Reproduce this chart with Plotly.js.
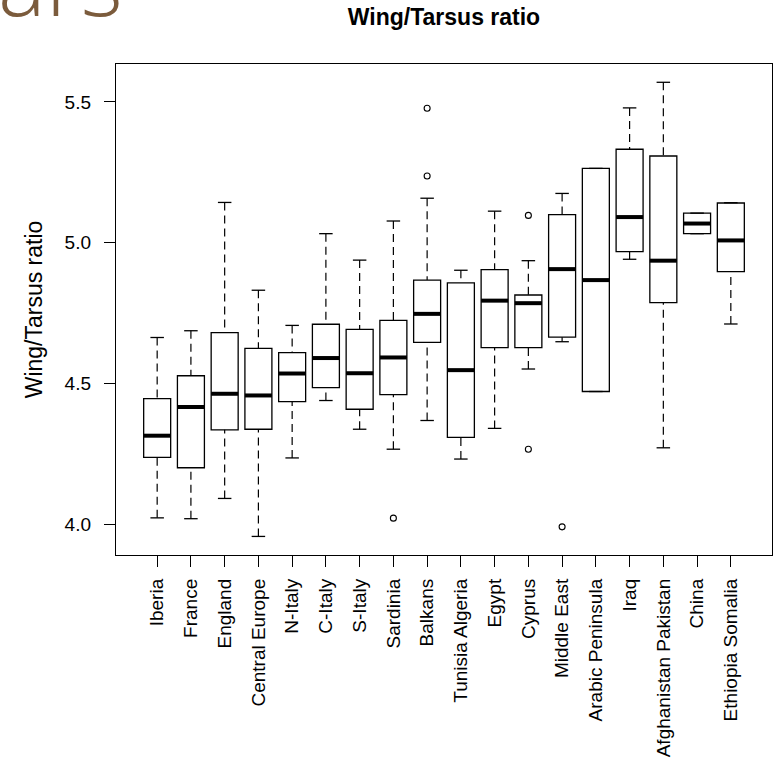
<!DOCTYPE html>
<html>
<head>
<meta charset="utf-8">
<script src="https://cdn.plot.ly/plotly-3.0.1.min.js"></script>
<style>html,body{margin:0;padding:0;background:#fff;}</style>
</head>
<body>
<div id="chart" style="width:781px;height:767px;"></div>
<script>
const categories = ["Iberia","France","England","Central Europe","N-Italy","C-Italy","S-Italy","Sardinia","Balkans","Tunisia Algeria","Egypt","Cyprus","Middle East","Arabic Peninsula","Iraq","Afghanistan Pakistan","China","Ethiopia Somalia"];
const lowerWhisker = [4.022, 4.019, 4.091, 3.956, 4.235, 4.439, 4.337, 4.266, 4.368, 4.231, 4.340, 4.551, 4.648, 4.471, 4.941, 4.271, 5.032, 4.711];
const q1Values     = [4.237, 4.200, 4.335, 4.337, 4.435, 4.485, 4.408, 4.460, 4.646, 4.308, 4.627, 4.627, 4.664, 4.471, 4.968, 4.787, 5.032, 4.897];
const medianValues = [4.314, 4.416, 4.463, 4.457, 4.535, 4.590, 4.536, 4.592, 4.747, 4.547, 4.794, 4.785, 4.906, 4.867, 5.091, 4.936, 5.068, 5.008];
const q3Values     = [4.446, 4.527, 4.680, 4.624, 4.609, 4.710, 4.692, 4.724, 4.867, 4.857, 4.904, 4.814, 5.100, 5.264, 5.332, 5.308, 5.105, 5.141];
const upperWhisker = [4.663, 4.687, 5.143, 4.831, 4.706, 5.032, 4.938, 5.077, 5.158, 4.902, 5.112, 4.936, 5.175, 5.264, 5.479, 5.570, 5.105, 5.142];
const outlierGroup = ["Sardinia","Balkans","Balkans","Cyprus","Cyprus","Middle East"];
const outlierValue = [4.021, 5.478, 5.237, 5.097, 4.266, 3.990];
const yTickValues = [4.0, 4.5, 5.0, 5.5];

const pos = categories.map((c, i) => i + 1);
const boxHalf = 0.4, capHalf = 0.2;

const font = "Liberation Sans, Arial, Helvetica, sans-serif";

const boxTrace = {
  type: 'box', x: pos, q1: q1Values, median: medianValues, q3: q3Values,
  lowerfence: q1Values, upperfence: q3Values,
  width: 2 * boxHalf, whiskerwidth: 0, boxpoints: false,
  line: {color: '#000', width: 1.3}, fillcolor: 'rgba(255,255,255,0)',
  showlegend: false, hoverinfo: 'skip'
};

function segs(x0s, x1s, y0s, y1s) {
  const xs = [], ys = [];
  for (let i = 0; i < x0s.length; i++) {
    xs.push(x0s[i], x1s[i], null);
    ys.push(y0s[i], y1s[i], null);
  }
  return {xs, ys};
}

const wUp = segs(pos, pos, upperWhisker, q3Values);
const wLo = segs(pos, pos, lowerWhisker, q1Values);
const whiskerTrace = {
  type: 'scatter', mode: 'lines',
  x: wUp.xs.concat(wLo.xs), y: wUp.ys.concat(wLo.ys),
  line: {color: '#000', width: 1.2, dash: '8px,5px'},
  showlegend: false, hoverinfo: 'skip'
};
const cUp = segs(pos.map(p => p - capHalf), pos.map(p => p + capHalf), upperWhisker, upperWhisker);
const cLo = segs(pos.map(p => p - capHalf), pos.map(p => p + capHalf), lowerWhisker, lowerWhisker);
const capTrace = {
  type: 'scatter', mode: 'lines',
  x: cUp.xs.concat(cLo.xs), y: cUp.ys.concat(cLo.ys),
  line: {color: '#000', width: 1.3},
  showlegend: false, hoverinfo: 'skip'
};
const med = segs(pos.map(p => p - boxHalf), pos.map(p => p + boxHalf), medianValues, medianValues);
const medianTrace = {
  type: 'scatter', mode: 'lines', x: med.xs, y: med.ys,
  line: {color: '#000', width: 4},
  showlegend: false, hoverinfo: 'skip'
};
const outlierTrace = {
  type: 'scatter', mode: 'markers',
  x: outlierGroup.map(g => categories.indexOf(g) + 1), y: outlierValue,
  marker: {symbol: 'circle-open', size: 6, color: '#000', line: {width: 1.1, color: '#000'}},
  showlegend: false, hoverinfo: 'skip'
};

const W = 781, H = 767, ml = 116, mr = 9, mt = 64, mb = 212;
const pw = W - ml - mr, ph = H - mt - mb;

const layout = {
  width: W, height: H,
  margin: {l: ml, r: mr, t: mt, b: mb, pad: 0},
  paper_bgcolor: '#fff', plot_bgcolor: '#fff',
  font: {family: font, color: '#000', size: 19},
  title: {
    text: 'Wing/Tarsus ratio', font: {family: font, size: 23, weight: 'bold', color: '#000'},
    x: 0.5, xref: 'paper', xanchor: 'center', y: 1 - 17 / H, yref: 'container', yanchor: 'middle'
  },
  xaxis: {
    range: [-0.22, 19.22], tickmode: 'array', tickvals: pos, ticktext: categories,
    tickangle: -90, ticks: 'outside', ticklen: 11, tickwidth: 1, tickcolor: '#000',
    showline: true, mirror: true, linecolor: '#000', linewidth: 1.2,
    showgrid: false, zeroline: false, ticklabelstandoff: 4,
    tickfont: {family: font, size: 19, color: '#000'}, fixedrange: true
  },
  yaxis: {
    range: [3.89, 5.635], tickmode: 'array', tickvals: yTickValues,
    ticktext: yTickValues.map(v => v.toFixed(1)),
    ticks: 'outside', ticklen: 11, tickwidth: 1, tickcolor: '#000',
    showline: true, mirror: true, linecolor: '#000', linewidth: 1.2,
    showgrid: false, zeroline: false, ticklabelstandoff: 9,
    tickfont: {family: font, size: 19, color: '#000'},
    title: {text: 'Wing/Tarsus ratio', font: {family: font, size: 23, color: '#000'}, standoff: 15},
    fixedrange: true
  },
  annotations: [{
    text: 'ars', xref: 'paper', yref: 'paper',
    x: (-4 - ml) / pw, y: (H - mb - 44) / ph, xanchor: 'left', yanchor: 'bottom',
    showarrow: false,
    font: {family: 'Open Sans, sans-serif', size: 90, weight: 300, color: '#7b5b3c'}
  }]
};

Plotly.newPlot('chart', [whiskerTrace, boxTrace, capTrace, medianTrace, outlierTrace], layout, {displayModeBar: false, staticPlot: true});
</script>
</body>
</html>
